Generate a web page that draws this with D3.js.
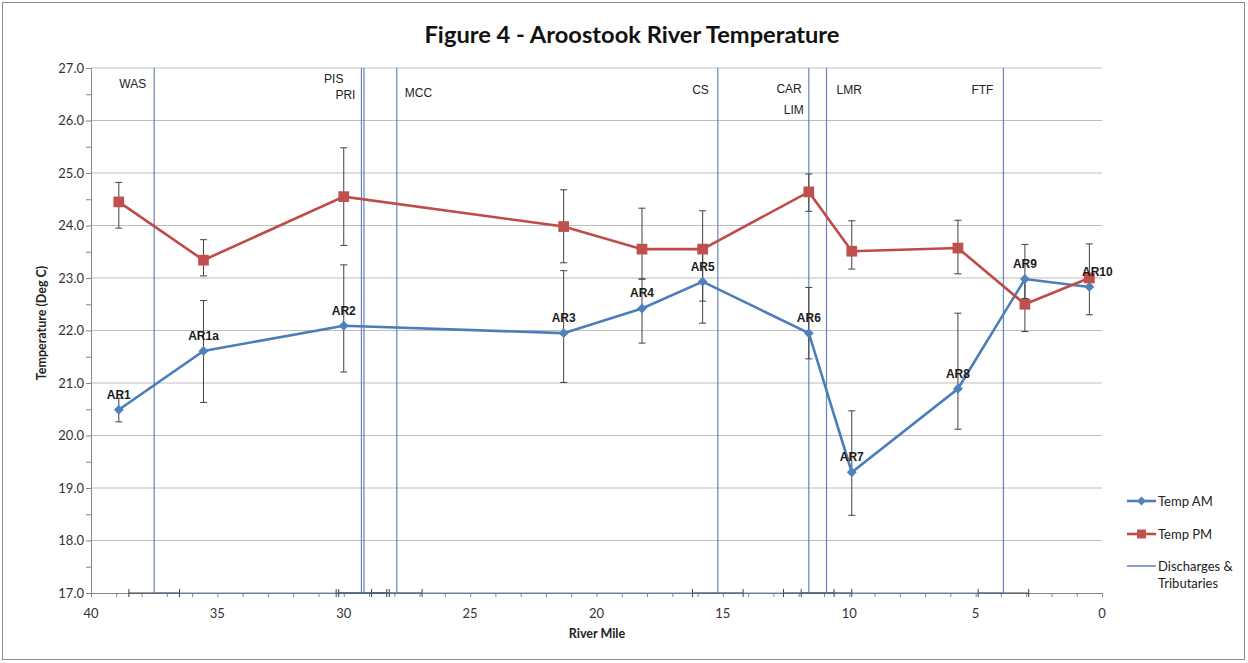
<!DOCTYPE html>
<html>
<head>
<meta charset="utf-8">
<script src="https://cdn.jsdelivr.net/npm/d3@7"></script>
<style>
  body { margin: 0; background: #fff; }
  svg { display: block; }
  .tick-label { font-family: Lato, "Liberation Sans", sans-serif; font-size: 13px; fill: #333; }
  .trib-label { font-family: "Liberation Sans", Arial, sans-serif; font-size: 12px; fill: #222; }
  .site-label { font-family: "Liberation Sans", Arial, sans-serif; font-size: 12px; font-weight: bold; fill: #1a1a1a; }
  .legend-text { font-family: Lato, "Liberation Sans", sans-serif; font-size: 13px; fill: #222; }
</style>
</head>
<body>
<svg id="chart" width="1248" height="663"></svg>
<script>
// sampling sites along the river
const sites = ["AR1", "AR1a", "AR2", "AR3", "AR4", "AR5", "AR6", "AR7", "AR8", "AR9", "AR10"];
const siteMile = [38.9, 35.55, 30.0, 21.3, 18.2, 15.8, 11.6, 9.9, 5.7, 3.05, 0.5];

// morning temperatures with min / max
const amTemp = [20.49, 21.61, 22.09, 21.95, 22.42, 22.93, 21.95, 19.30, 20.89, 22.98, 22.83];
const amLo   = [20.26, 20.63, 21.21, 21.01, 21.76, 22.14, 21.46, 18.48, 20.12, 22.61, 22.30];
const amHi   = [20.71, 22.57, 23.25, 23.14, 22.98, 23.55, 22.82, 20.47, 22.33, 23.64, 23.00];

// afternoon temperatures with min / max
const pmTemp = [24.45, 23.34, 24.55, 23.98, 23.55, 23.55, 24.64, 23.51, 23.57, 22.50, 23.00];
const pmLo   = [23.95, 23.04, 23.62, 23.29, 22.98, 22.56, 24.27, 23.17, 23.08, 21.98, 22.85];
const pmHi   = [24.82, 23.73, 25.48, 24.68, 24.33, 24.28, 24.98, 24.09, 24.10, 22.98, 23.65];

// discharges & tributaries
const tribNames = ["WAS", "PIS", "PRI", "MCC", "CS", "CAR", "LIM", "LMR", "FTF"];
const tribMiles = [37.5, 29.3, 29.2, 27.9, 15.2, 11.6, 10.9, 10.9, 3.9];
const tribErr = 1;

const yTicks = d3.range(17, 27.01, 1);
const xTicks = [40, 35, 30, 25, 20, 15, 10, 5, 0];

const svg = d3.select("#chart");
const margin = {left: 91, right: 1102, top: 68, bottom: 593};

const x = d3.scaleLinear().domain([40, 0]).range([margin.left, margin.right]);
const y = d3.scaleLinear().domain([17, 27]).range([margin.bottom, margin.top]);

// chart border
svg.append("rect")
    .attr("x", 2.5).attr("y", 2.5)
    .attr("width", 1242).attr("height", 657)
    .attr("fill", "none")
    .attr("stroke", "#8c8c8c");

// title
svg.append("text")
    .attr("x", 632).attr("y", 43)
    .attr("text-anchor", "middle")
    .attr("textLength", 415)
    .attr("lengthAdjust", "spacingAndGlyphs")
    .style("font-family", "Lato, 'Open Sans', sans-serif")
    .style("font-weight", "bold")
    .style("font-size", "23px")
    .style("fill", "#111")
    .text("Figure 4 - Aroostook River Temperature");

// gridlines
svg.append("g")
    .selectAll("line")
    .data(yTicks.filter(v => v > 17))
    .enter()
    .append("line")
    .attr("x1", margin.left).attr("x2", margin.right)
    .attr("y1", d => y(d)).attr("y2", d => y(d))
    .attr("stroke", "#bdbdbd")
    .attr("stroke-width", 1.2);

// y axis
const yAxis = svg.append("g")
    .attr("transform", `translate(${margin.left},0)`)
    .call(d3.axisLeft(y).tickValues(d3.range(17, 27.01, 0.5)).tickSize(5).tickFormat(""));
yAxis.select(".domain").attr("stroke", "#868686");
yAxis.selectAll(".tick line").attr("stroke", "#868686");

svg.append("g")
    .selectAll("text")
    .data(yTicks)
    .enter()
    .append("text")
    .attr("class", "tick-label")
    .attr("x", 84)
    .attr("y", d => y(d) + 4.5)
    .attr("text-anchor", "end")
    .text(d => d.toFixed(1));

// x axis
const xAxis = svg.append("g")
    .attr("transform", `translate(0,${margin.bottom})`)
    .call(d3.axisBottom(x).tickValues(d3.range(0, 40.01, 1)).tickSize(4).tickFormat(""));
xAxis.select(".domain").attr("stroke", "#868686");
xAxis.selectAll(".tick line").attr("stroke", "#868686");

svg.append("g")
    .selectAll("text")
    .data(xTicks)
    .enter()
    .append("text")
    .attr("class", "tick-label")
    .attr("x", d => x(d))
    .attr("y", 618)
    .attr("text-anchor", "middle")
    .text(d => d);

// axis titles
svg.append("text")
    .attr("transform", "translate(46,323) rotate(-90)")
    .attr("text-anchor", "middle")
    .style("font-family", "Lato, sans-serif")
    .style("font-weight", "bold")
    .style("font-size", "12.5px")
    .style("fill", "#222")
    .text("Temperature (Deg C)");

svg.append("text")
    .attr("x", 597).attr("y", 638)
    .attr("text-anchor", "middle")
    .style("font-family", "Lato, sans-serif")
    .style("font-weight", "bold")
    .style("font-size", "12.5px")
    .style("fill", "#222")
    .text("River Mile");

// discharges & tributaries
const tribs = tribNames.map((name, i) => ({name, mile: tribMiles[i]}));
const tribUnique = Array.from(new Set(tribMiles)).sort((a, b) => b - a);

const errG = svg.append("g").attr("stroke", "#404040").attr("stroke-width", 1);
tribUnique.forEach(m0 => {
    errG.append("line")
        .attr("x1", x(m0 + tribErr)).attr("x2", x(m0 - tribErr))
        .attr("y1", y(17)).attr("y2", y(17));
    [m0 + tribErr, m0 - tribErr].forEach(m => {
        errG.append("line")
            .attr("x1", x(m)).attr("x2", x(m))
            .attr("y1", y(17) - 4).attr("y2", y(17) + 4);
    });
});

const tribPath = [];
tribUnique.forEach(m => {
    tribPath.push([m, 17], [m, 27], [m, 17]);
});
svg.append("path")
    .datum(tribPath)
    .attr("fill", "none")
    .attr("stroke", "#5677b2")
    .attr("stroke-width", 1.2)
    .attr("opacity", 0.9)
    .attr("d", d3.line().x(d => x(d[0])).y(d => y(d[1])));

// tributary labels
const tribLabelPos = {
    WAS: {at: 37.5, dx: -8, y: 88, anchor: "end"},
    PIS: {at: 29.3, dx: -18, y: 83, anchor: "end"},
    PRI: {at: 29.3, dx: -6, y: 99, anchor: "end"},
    MCC: {at: 27.9, dx: 8, y: 97, anchor: "start"},
    CS:  {at: 15.2, dx: -9, y: 94, anchor: "end"},
    CAR: {at: 11.6, dx: -7, y: 93, anchor: "end"},
    LIM: {at: 11.6, dx: -5, y: 114, anchor: "end"},
    LMR: {at: 10.9, dx: 10, y: 94, anchor: "start"},
    FTF: {at: 3.9, dx: -10, y: 94, anchor: "end"}
};
svg.append("g")
    .selectAll("text")
    .data(tribs)
    .enter()
    .append("text")
    .attr("class", "trib-label")
    .attr("x", d => x(tribLabelPos[d.name].at) + tribLabelPos[d.name].dx)
    .attr("y", d => tribLabelPos[d.name].y)
    .attr("text-anchor", d => tribLabelPos[d.name].anchor)
    .text(d => d.name);

// series
const amData = sites.map((s, i) => ({site: s, mile: siteMile[i], v: amTemp[i], lo: amLo[i], hi: amHi[i]}));
const pmData = sites.map((s, i) => ({site: s, mile: siteMile[i], v: pmTemp[i], lo: pmLo[i], hi: pmHi[i]}));

function errorBars(data) {
    const g = svg.append("g").attr("stroke", "#404040").attr("stroke-width", 1);
    data.forEach(d => {
        g.append("line")
            .attr("x1", x(d.mile)).attr("x2", x(d.mile))
            .attr("y1", y(d.lo)).attr("y2", y(d.hi));
        [d.lo, d.hi].forEach(v => {
            g.append("line")
                .attr("x1", x(d.mile) - 3.5).attr("x2", x(d.mile) + 3.5)
                .attr("y1", y(v)).attr("y2", y(v));
        });
    });
}
errorBars(amData);
errorBars(pmData);

const line = d3.line().x(d => x(d.mile)).y(d => y(d.v));

svg.append("path")
    .datum(amData)
    .attr("fill", "none")
    .attr("stroke", "#4a7ebb")
    .attr("stroke-width", 2.6)
    .attr("d", line);

svg.append("path")
    .datum(pmData)
    .attr("fill", "none")
    .attr("stroke", "#be4b48")
    .attr("stroke-width", 2.6)
    .attr("d", line);

svg.append("g")
    .selectAll("path")
    .data(amData)
    .enter()
    .append("path")
    .attr("transform", d => `translate(${x(d.mile)},${y(d.v)})`)
    .attr("d", d3.symbol(d3.symbolDiamond2, 62))
    .attr("fill", "#4f81bd");

svg.append("g")
    .selectAll("path")
    .data(pmData)
    .enter()
    .append("path")
    .attr("transform", d => `translate(${x(d.mile)},${y(d.v)})`)
    .attr("d", d3.symbol(d3.symbolSquare, 115))
    .attr("fill", "#c0504d");

// site labels above the morning points
const labelDx = {AR10: 8};
svg.append("g")
    .selectAll("text")
    .data(amData)
    .enter()
    .append("text")
    .attr("class", "site-label")
    .attr("x", d => x(d.mile) + (labelDx[d.site] || 0))
    .attr("y", d => y(d.v) - 11)
    .attr("text-anchor", "middle")
    .text(d => d.site);

// legend
const legend = svg.append("g");
const lx = 1127, lw = 29;

legend.append("line")
    .attr("x1", lx).attr("x2", lx + lw).attr("y1", 501).attr("y2", 501)
    .attr("stroke", "#4a7ebb").attr("stroke-width", 2.6);
legend.append("path")
    .attr("transform", `translate(${lx + lw / 2},501)`)
    .attr("d", d3.symbol(d3.symbolDiamond2, 50))
    .attr("fill", "#4f81bd");
legend.append("text").attr("class", "legend-text")
    .attr("x", 1158).attr("y", 506).text("Temp AM");

legend.append("line")
    .attr("x1", lx).attr("x2", lx + lw).attr("y1", 534).attr("y2", 534)
    .attr("stroke", "#be4b48").attr("stroke-width", 2.6);
legend.append("path")
    .attr("transform", `translate(${lx + lw / 2},534)`)
    .attr("d", d3.symbol(d3.symbolSquare, 80))
    .attr("fill", "#c0504d");
legend.append("text").attr("class", "legend-text")
    .attr("x", 1158).attr("y", 539).text("Temp PM");

legend.append("line")
    .attr("x1", lx).attr("x2", lx + lw).attr("y1", 566).attr("y2", 566)
    .attr("stroke", "#4769a8").attr("stroke-width", 1.3);
legend.append("text").attr("class", "legend-text")
    .attr("x", 1158).attr("y", 571).text("Discharges &");
legend.append("text").attr("class", "legend-text")
    .attr("x", 1158).attr("y", 588).text("Tributaries");
</script>
</body>
</html>
